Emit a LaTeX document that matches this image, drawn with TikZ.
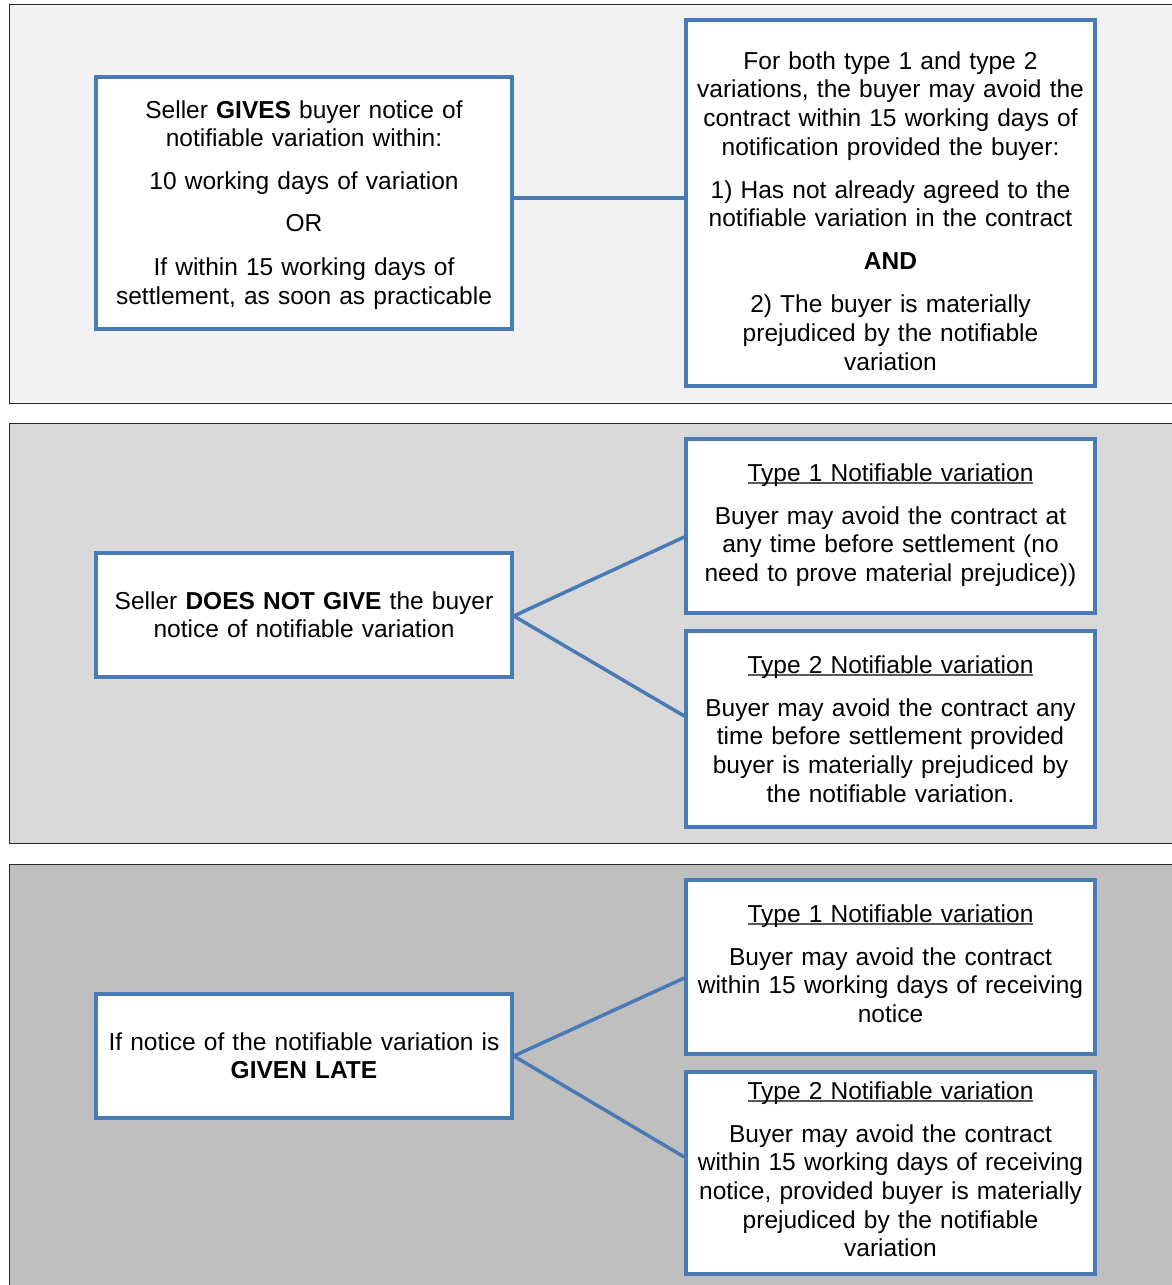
\documentclass[tikz,border=0pt]{standalone}
\usepackage{fontspec}
\setmainfont{Liberation Sans}
\definecolor{boxblue}{RGB}{74,122,181}
\definecolor{panelA}{RGB}{242,242,242}
\definecolor{panelB}{RGB}{217,217,217}
\definecolor{panelC}{RGB}{191,191,191}
\definecolor{frame}{RGB}{40,40,40}
\definecolor{ulgray}{RGB}{90,90,90}
\newcommand{\myul}[1]{{\setbox0\hbox{#1}\rlap{\color{ulgray}\rule[-2.6pt]{\wd0}{1.3pt}}\box0}}
\tikzset{
  panel/.style={draw=frame, line width=1pt},
  box/.style={draw=boxblue, line width=3.5pt, fill=white, rectangle, inner sep=0pt},
  txt/.style={anchor=base, align=center, text width=420pt, inner sep=0pt,
              font=\fontsize{24.5}{28.7}\selectfont},
  link/.style={draw=boxblue, line width=3.5pt}
}
\begin{document}
\begin{tikzpicture}[x=1pt,y=-1pt]
\useasboundingbox (0,0) rectangle (1172,1285);
\clip (0,0) rectangle (1172,1285);
% panels
\fill[panelA] (9,4) rectangle (1190,403);
\draw[panel] (1190,4) -- (9,4) -- (9,403) -- (1190,403);
\fill[panelB] (9,423) rectangle (1190,843);
\draw[panel] (1190,423) -- (9,423) -- (9,843) -- (1190,843);
\fill[panelC] (9,864) rectangle (1190,1300);
\draw[panel] (1190,864) -- (9,864) -- (9,1300);

% boxes panel 1
\node[box, minimum width=416pt, minimum height=252pt] (a) at (304,203) {};
\node[box, minimum width=409pt, minimum height=366pt] (b) at (890.5,203) {};
% boxes panel 2
\node[box, minimum width=416pt, minimum height=124pt] (c) at (304,615) {};
\node[box, minimum width=409pt, minimum height=174pt] (d) at (890.5,526) {};
\node[box, minimum width=409pt, minimum height=196pt] (e) at (890.5,729) {};
% boxes panel 3
\node[box, minimum width=416pt, minimum height=124pt] (f) at (304,1056) {};
\node[box, minimum width=409pt, minimum height=174pt] (g) at (890.5,967) {};
\node[box, minimum width=409pt, minimum height=202pt] (h) at (890.5,1173) {};

% connectors
\draw[link] (a.east |- 0,198) -- (b.west |- 0,198);
\draw[link] (c.east |- 0,616) -- (d.west |- 0,537);
\draw[link] (c.east |- 0,616) -- (e.west |- 0,716);
\draw[link] (f.east |- 0,1056) -- (g.west |- 0,978);
\draw[link] (f.east |- 0,1056) -- (h.west |- 0,1157);

% texts
\node[txt] (ta) at (304,118) {Seller \textbf{GIVES} buyer notice of\\ notifiable variation within:\\[14.3pt]
10 working days of variation\\[13.3pt] OR\\[15.3pt] If within 15 working days of\\ settlement, as soon as practicable};
\node[txt] (tb) at (890.5,69) {For both type 1 and type 2\\ variations, the buyer may avoid the\\ contract within 15 working days of\\ notification provided the buyer:\\[14.3pt]
1) Has not already agreed to the\\ notifiable variation in the contract\\[14.3pt] \textbf{AND}\\[14.3pt]
2) The buyer is materially\\ prejudiced by the notifiable\\ variation};
\node[txt] (tc) at (304,609) {Seller \textbf{DOES NOT GIVE} the buyer\\ notice of notifiable variation};
\node[txt] (td) at (890.5,481) {\myul{Type 1 Notifiable variation}\\[14.3pt]
Buyer may avoid the contract at\\ any time before settlement (no\\ need to prove material prejudice))};
\node[txt] (te) at (890.5,673) {\myul{Type 2 Notifiable variation}\\[14.3pt]
Buyer may avoid the contract any\\ time before settlement provided\\ buyer is materially prejudiced by\\ the notifiable variation.};
\node[txt] (tf) at (304,1050) {If notice of the notifiable variation is\\ \textbf{GIVEN LATE}};
\node[txt] (tg) at (890.5,922) {\myul{Type 1 Notifiable variation}\\[14.3pt]
Buyer may avoid the contract\\ within 15 working days of receiving\\ notice};
\node[txt] (th) at (890.5,1099) {\myul{Type 2 Notifiable variation}\\[14.3pt]
Buyer may avoid the contract\\ within 15 working days of receiving\\ notice, provided buyer is materially\\ prejudiced by the notifiable\\ variation};
\end{tikzpicture}
\end{document}
